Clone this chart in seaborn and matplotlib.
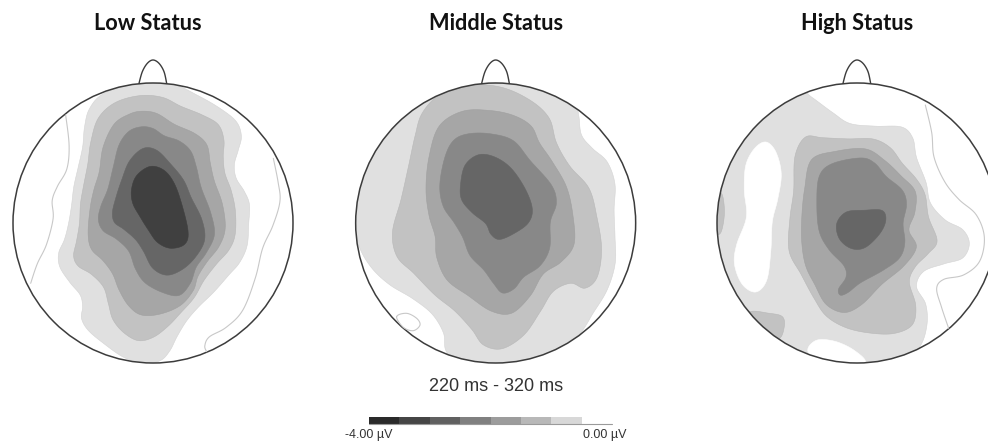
import numpy as np
import matplotlib
matplotlib.use("Agg")
import matplotlib.pyplot as plt
from matplotlib.colors import ListedColormap
from matplotlib.patches import Circle
import seaborn as sns

sns.set_theme(style="white")

TITLES = ["Low Status", "Middle Status", "High Status"]
TIME_LABEL = "220 ms - 320 ms"
SCALE_MIN_LABEL = "-4.00 µV"
SCALE_MAX_LABEL = "0.00 µV"
SCALE_VALUES = [-4.0, -3.5, -3.0, -2.5, -2.0, -1.5, -1.0, -0.5]
SCALE_COLORS = ["#2a2a2a", "#454545", "#606060", "#808080", "#9c9c9c", "#b8b8b8", "#d8d8d8", "#ffffff"]
LEVEL_COLORS = {1: "#e0e0e0", 2: "#c2c2c2", 3: "#a6a6a6", 4: "#888888", 5: "#666666", 6: "#404040"}
LEVEL_EDGES = {0: "#ffffff", 1: "#d4d4d4", 2: "#b8b8b8", 3: "#a0a0a0", 4: "#888888", 5: "#666666", 6: "#404040"}

# contour outlines of the potential maps (map units, y downwards)
LOW_L1 = [(300,130),(400,95),(520,95),(600,140),(670,180),(715,215),(728,260),(715,300),(700,345),(705,385),(735,425),(752,460),(745,520),(745,590),(720,640),(690,670),(640,730),(595,770),(560,810),(530,860),(510,905),(485,935),(430,945),(370,925),(310,880),(260,840),(240,805),(250,770),(245,735),(210,700),(175,650),(172,610),(195,570),(205,525),(215,470),(220,410),(235,350),(250,290),(252,230),(265,175)]
LOW_L2 = [(420,133),(490,138),(540,170),(610,195),(660,220),(675,270),(668,320),(672,370),(695,420),(708,480),(708,560),(690,600),(650,640),(610,690),(585,745),(540,790),(505,830),(460,865),(415,878),(370,850),(335,810),(325,760),(315,710),(275,670),(230,650),(217,620),(230,575),(240,520),(240,460),(250,410),(265,340),(270,280),(290,200),(340,155)]
LOW_L3 = [(425,182),(470,185),(520,225),(590,250),(625,280),(630,340),(640,390),(670,460),(680,540),(660,590),(620,635),(590,680),(585,720),(545,770),(480,795),(420,800),(385,770),(355,720),(340,670),(310,630),(270,600),(262,560),(270,470),(280,420),(300,370),(305,290),(340,215),(390,190)]
LOW_L4 = [(425,228),(460,232),(490,260),(540,270),(575,300),(590,350),(600,410),(635,490),(650,555),(620,610),(585,650),(575,700),(540,745),(490,730),(430,700),(405,660),(390,600),(350,565),(305,545),(292,510),(300,470),(325,420),(340,350),(355,280),(385,240)]
LOW_L5 = [(430,288),(470,295),(510,340),(555,390),(570,440),(610,510),(620,570),(590,620),(550,660),(500,682),(455,660),(430,600),(410,570),(370,535),(340,520),(335,490),(345,450),(365,390),(385,330)]
LOW_L6 = [(450,343),(490,355),(520,390),(540,440),(570,555),(560,585),(510,600),(470,580),(445,540),(420,500),(395,460),(392,420),(405,375)]
LOW_ZERO_A = [(197,195),(210,290),(205,360),(170,410),(152,450),(165,500),(140,590),(110,640),(92,700)]
LOW_ZERO_B = [(820,325),(835,400),(845,450),(820,530),(785,590),(770,680),(730,790),(680,835),(620,860),(612,890),(620,905)]

MID_L1 = [(400,60),(600,80),(700,150),(700,190),(705,260),(740,295),(790,330),(815,400),(805,480),(810,560),(815,640),(790,720),(745,790),(700,850),(650,960),(305,960),(305,905),(300,850),(265,790),(205,745),(130,705),(75,655),(40,580),(0,520),(0,100)]
MID_L2 = [(350,100),(470,105),(560,150),(620,200),(630,280),(670,350),(740,410),(755,500),(775,600),(760,690),(720,725),(680,690),(620,720),(590,780),(540,860),(470,905),(410,890),(385,840),(330,780),(270,740),(205,665),(150,625),(135,550),(170,450),(190,350),(212,250),(225,190),(280,130)]
MID_L3 = [(350,177),(440,180),(510,195),(565,225),(580,280),(620,330),(670,410),(685,500),(695,590),(650,640),(590,665),(560,740),(500,800),(440,790),(370,735),(300,695),(270,620),(275,560),(250,500),(240,420),(250,320),(275,220)]
MID_L4 = [(370,248),(440,250),(510,265),(550,330),(630,410),(640,460),(610,510),(620,600),(590,650),(530,680),(510,720),(470,737),(445,700),(420,660),(370,620),(355,560),(330,520),(290,470),(280,410),(300,310),(325,265)]
MID_L5 = [(400,308),(450,318),(500,350),(545,420),(567,480),(555,520),(510,550),(460,575),(435,555),(428,520),(380,490),(345,450),(345,410),(355,340)]
MID_ZERO_A = [(155,800),(185,790),(215,805),(225,825),(205,842),(175,832)]

HIGH_L1 = [(360,140),(440,190),(480,225),(560,230),(650,225),(678,260),(680,320),(720,400),(720,460),(770,515),(830,535),(850,580),(830,630),(770,640),(700,660),(675,710),(720,760),(720,830),(695,890),(650,990),(400,990),(60,900),(40,500),(100,100),(340,90)]
HIGH_GAP_A = [(235,268),(265,300),(285,370),(270,450),(250,510),(250,600),(240,700),(205,735),(160,710),(135,640),(140,590),(185,500),(165,420),(170,340),(200,290)]
HIGH_GAP_B = [(340,905),(380,865),(440,870),(500,900),(555,940),(450,980)]
HIGH_L2 = [(350,250),(400,265),(480,268),(560,262),(610,290),(640,340),(690,390),(715,430),(715,500),(760,580),(720,610),(680,650),(655,690),(690,770),(680,830),(620,855),(540,850),(470,835),(410,800),(380,750),(340,670),(295,610),(305,500),(320,430),(315,310)]
HIGH_L2_EDGE_A = [(70,420),(105,420),(112,490),(100,560),(70,560)]
HIGH_L2_EDGE_B = [(185,780),(240,790),(290,795),(290,830),(280,875),(200,880),(150,800)]
HIGH_L3 = [(360,315),(440,305),(540,288),(590,330),(640,380),(690,420),(685,490),(650,540),(700,590),(650,650),(580,700),(520,770),(470,795),(410,770),(380,700),(350,650),(340,580),(340,500),(350,420)]
HIGH_L4 = [(420,340),(530,318),(560,335),(590,380),(650,420),(660,460),(640,520),(655,580),(640,625),(590,660),(510,700),(480,730),(455,740),(445,720),(480,680),(475,650),(420,600),(390,550),(385,460),(390,370)]
HIGH_L5 = [(470,480),(530,482),(590,475),(597,510),(580,550),(530,600),(490,600),(450,570),(440,520)]
HIGH_ZERO_A = [(712,165),(735,250),(732,320),(770,400),(810,450),(870,490),(895,560),(880,640),(830,680),(760,685),(740,710),(760,770),(782,835)]

NOSE_DX = [-42, -32, -17, 0, 18, 33, 41]
NOSE_Y = [100, 65, 40, 30, 40, 65, 100]
HEAD_CENTERS_X = [459, 452, 507]
HEAD_Y = 519
HEAD_R = 420

PANELS = [
    {"fills": [(1, LOW_L1), (2, LOW_L2), (3, LOW_L3), (4, LOW_L4), (5, LOW_L5), (6, LOW_L6)],
     "lines": [LOW_ZERO_A, LOW_ZERO_B], "closed": []},
    {"fills": [(1, MID_L1), (2, MID_L2), (3, MID_L3), (4, MID_L4), (5, MID_L5)],
     "lines": [], "closed": [MID_ZERO_A]},
    {"fills": [(1, HIGH_L1), (0, HIGH_GAP_A), (0, HIGH_GAP_B), (2, HIGH_L2), (2, HIGH_L2_EDGE_A),
               (2, HIGH_L2_EDGE_B), (3, HIGH_L3), (4, HIGH_L4), (5, HIGH_L5)],
     "lines": [HIGH_ZERO_A], "closed": []},
]
PANEL_LEFT_PX = [0, 345, 688]
W, H = 988, 444


def relax(p, closed):
    q = p.copy()
    if closed:
        q = 0.7 * p + 0.15 * np.roll(p, 1, axis=0) + 0.15 * np.roll(p, -1, axis=0)
    else:
        q[1:-1] = 0.7 * p[1:-1] + 0.15 * p[:-2] + 0.15 * p[2:]
    return q


def smooth(pts, closed=True, n=10, soften=True):
    p = np.asarray(pts, float)
    if soften:
        p = relax(p, closed)
    if closed:
        p = np.vstack([p[-1], p, p[0], p[1]])
    else:
        p = np.vstack([p[0], p, p[-1]])
    t = np.linspace(0, 1, n, endpoint=False)[:, None]
    out = []
    for i in range(1, len(p) - 2):
        a, b, c, d = p[i - 1], p[i], p[i + 1], p[i + 2]
        out.append(0.5 * (2 * b + (c - a) * t + (2 * a - 5 * b + 4 * c - d) * t**2 + (3 * b - a - 3 * c + d) * t**3))
    out = np.vstack(out)
    if not closed:
        out = np.vstack([out, p[-2]])
    return out


fig = plt.figure(figsize=(W / 100, H / 100), dpi=100)
fig.patch.set_facecolor("white")

for i, panel in enumerate(PANELS):
    ax = fig.add_axes([PANEL_LEFT_PX[i] / W, 1 - 370 / H, 300 / W, 320 / H])
    ax.set_xlim(0, 900)
    ax.set_ylim(960, 0)
    cx = HEAD_CENTERS_X[i]
    clip = Circle((cx, HEAD_Y), HEAD_R, transform=ax.transData)
    for level, pts in panel["fills"]:
        xy = smooth(pts)
        color = LEVEL_COLORS.get(level, "#ffffff")
        poly = ax.fill(xy[:, 0], xy[:, 1], facecolor=color, edgecolor=LEVEL_EDGES[level], lw=0.4)[0]
        poly.set_clip_path(clip)
    for pts in panel["lines"]:
        xy = smooth(pts, closed=False)
        sns.lineplot(x=xy[:, 0], y=xy[:, 1], sort=False, estimator=None, color="#c8c8c8", lw=0.8, ax=ax)
    for pts in panel["closed"]:
        xy = smooth(pts, soften=False)
        xy = np.vstack([xy, xy[0]])
        sns.lineplot(x=xy[:, 0], y=xy[:, 1], sort=False, estimator=None, color="#c8c8c8", lw=0.8, ax=ax)
    ax.add_patch(Circle((cx, HEAD_Y), HEAD_R, fill=False, ec="#3c3c3c", lw=1.1))
    nose = smooth(list(zip(np.array(NOSE_DX) + cx, NOSE_Y)), closed=False, soften=False)
    sns.lineplot(x=nose[:, 0], y=nose[:, 1], sort=False, estimator=None, color="#3c3c3c", lw=1.0, ax=ax)
    ax.set_axis_off()

TITLE_X = [148, 496, 857]
for name, x in zip(TITLES, TITLE_X):
    fig.text(x / W, 1 - 24 / H, name, ha="center", va="center", fontsize=15.7, fontweight="bold",
             family="Lato", color="#111111")

fig.text(496 / W, 1 - 386 / H, TIME_LABEL, ha="center", va="center", fontsize=13, family="Liberation Sans", color="#333333")

# colour scale
cax = fig.add_axes([369 / W, 1 - 424 / H, 243 / W, 7 / H])
sns.heatmap(np.array([SCALE_VALUES]), cmap=ListedColormap(SCALE_COLORS), cbar=False, ax=cax,
            xticklabels=False, yticklabels=False, vmin=-4, vmax=0)
cax.plot([0, 8], [1, 1], color="#9a9a9a", lw=0.8, clip_on=False)
fig.text(369 / W, 1 - 435 / H, SCALE_MIN_LABEL, ha="center", va="center", fontsize=9, family="Liberation Sans", color="#333333")
fig.text(605 / W, 1 - 435 / H, SCALE_MAX_LABEL, ha="center", va="center", fontsize=9, family="Liberation Sans", color="#333333")

fig.savefig("out.png", dpi=100, facecolor="white")
